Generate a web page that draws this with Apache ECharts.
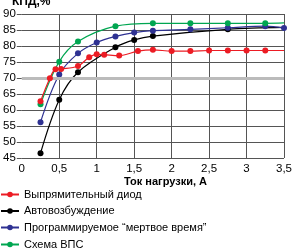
<!DOCTYPE html>
<html><head><meta charset="utf-8">
<script src="https://cdn.jsdelivr.net/npm/echarts@6/dist/echarts.min.js"></script>
<style>html,body{margin:0;padding:0;background:#fff}#c{width:295px;height:250px}</style>
</head><body><div id="c"></div>
<script>
const seriesNames = ['Выпрямительный диод','Автовозбуждение','Программируемое \u201cмертвое время\u201d','Схема ВПС'];
const redX = [0.25,0.375,0.45,0.525,0.75,0.9,1.0,1.1,1.3,1.55,1.75,2.0,2.25,2.5,2.75,3.0,3.25,3.5];
const redY = [62.7,69.9,72.7,72.8,73.75,76.5,77.4,77.3,77.0,78.4,78.8,78.4,78.4,78.6,78.6,78.6,78.6,78.6];
const blackX = [0.25,0.5,0.75,1.25,1.5,1.75,2.75,3.5];
const blackY = [46.5,63.2,71.8,79.6,81.9,83.1,85.2,85.8];
const blueX = [0.25,0.5,0.75,1.0,1.25,1.5,1.75,2.25,2.75,3.25,3.5];
const blueY = [56.2,71.1,77.7,81.1,83.0,84.2,84.8,85.2,85.7,86.2,85.6];
const greenX = [0.25,0.5,0.75,1.25,1.75,2.25,2.75,3.25,3.5];
const greenY = [61.8,75.1,81.4,86.2,87.1,87.1,87.1,87.1,87.2];
const yName = 'КПД,%';
const xName = 'Ток нагрузки, А';
const colors = ['#ec1c24','#000000','#2e3192','#00a651'];
const FONT = '"Liberation Sans Narrow","Liberation Sans",Arial,sans-serif';

function pts(xs, ys){ return xs.map((x,i)=>[x, ys[i]]); }
const sets = [pts(redX,redY), pts(blackX,blackY), pts(blueX,blueY), pts(greenX,greenY)];
const lastIdx = [redX.length-1, blackX.length-1, blueX.length-1, greenX.length-1];
const legendTops = [189, 205.5, 222, 239];

const chart = echarts.init(document.getElementById('c'), null, {renderer:'canvas'});
const gridColors = ['#555','#555','#555','#555','#555','#bbb','#555','#555','#555','#555'];
chart.setOption({
  animation:false,
  color: colors,
  grid:{left:18,right:6,top:14,bottom:92,containLabel:false},
  xAxis:{type:'value',min:0,max:3.5,interval:0.5,
    axisLine:{show:false},axisTick:{show:false},
    splitLine:{show:true,lineStyle:{color:['rgba(0,0,0,0)','#555','#555','#555','#555','#555','#555','#555'],width:1}},
    axisLabel:{margin:5,color:'#000',fontFamily:FONT,fontSize:11.5,
      formatter:v=>String(v).replace('.',',')}},
  yAxis:{type:'value',min:45,max:90,interval:5,
    axisLine:{show:false},
    axisTick:{show:true,length:5,lineStyle:{color:'#555'}},
    splitLine:{show:true,lineStyle:{color:gridColors,width:1}},
    axisLabel:{margin:6,color:'#000',fontFamily:FONT,fontSize:11.5}},
  legend: seriesNames.map((n,i)=>({orient:'vertical',left:0,top:legendTops[i],padding:0,
    itemWidth:18,itemHeight:7,itemGap:4,
    textStyle:{fontFamily:FONT,fontSize:11,color:'#000'},
    data:[n]})),
  graphic:[
    {type:'text',left:12,top:-4,style:{text:yName,font:'bold 12px '+FONT,fill:'#000'}},
    {type:'text',left:124,top:176,style:{text:xName,font:'bold 11px '+FONT,fill:'#000'}}
  ],
  series: sets.map((d,i)=>({
    name:seriesNames[i],type:'line',smooth:0.35,data:d,
    symbol:(v,p)=> p.dataIndex===lastIdx[i] && i!==2 ? 'none' : 'circle',
    symbolSize:6,showSymbol:true,
    lineStyle:{width:1.2,color:colors[i]},
    itemStyle:{color:colors[i]},
    clip:true,
    markLine: i===0 ? {silent:true,symbol:'none',label:{show:false},
      lineStyle:{color:'#bbb',width:3,type:'solid'},data:[{yAxis:70}]} : undefined,
    z: i===0?5:3
  }))
});
</script></body></html>
